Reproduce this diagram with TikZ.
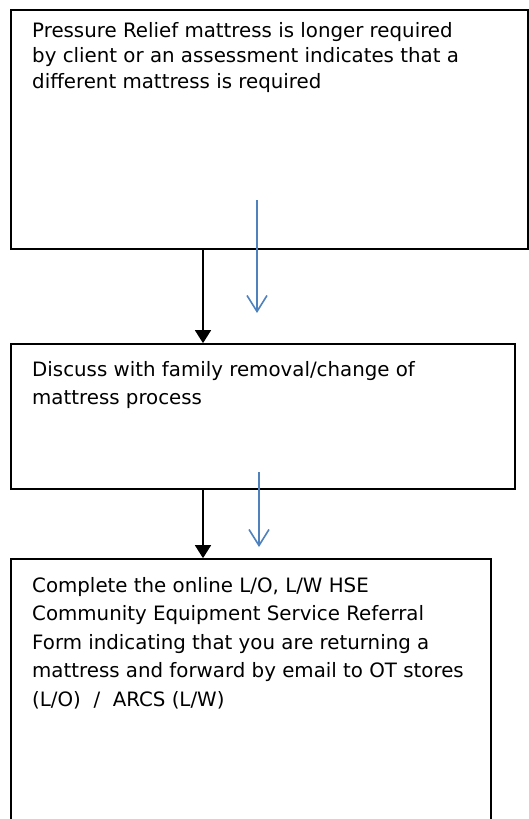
\documentclass[tikz,border=0pt]{standalone}
\usepackage{fontspec}
\setmainfont{DejaVu Sans}
\usetikzlibrary{arrows.meta}
\definecolor{wordblue}{RGB}{79,129,189}
\begin{document}
\begin{tikzpicture}[x=1pt,y=-1pt,
  box/.style={draw=black, line width=1.7pt, rectangle, inner sep=0pt},
  txt/.style={anchor=base west, align=left, inner sep=0pt},
  flow/.style={draw=black, line width=1.6pt, -{Triangle[length=13pt,width=16pt]}},
  blueflow/.style={draw=wordblue, line width=1.6pt, -{Straight Barb[length=16pt,width=20pt,line width=1.6pt]}}]
\clip (0,0) rectangle (529,819);
\node[box, minimum width=517pt, minimum height=239pt] (b1) at (269.5,129.5) {};
\node[box, minimum width=504pt, minimum height=145pt] (b2) at (263,416.5) {};
\node[box, minimum width=480pt, minimum height=281pt] (b3) at (251,699.5) {};
% base anchor of a multi-line node = baseline of its last line
\node[txt, font=\fontsize{19.8}{25.5}\selectfont] (t1) at (32,88) {Pressure Relief mattress is longer required\\by client or an assessment indicates that a\\different mattress is required};
\node[txt, font=\fontsize{19.8}{28}\selectfont] (t2) at (32,404) {Discuss with family removal/change of\\mattress process};
\node[txt, font=\fontsize{19.8}{28.5}\selectfont] (t3) at (32,706) {Complete the online L/O, L/W HSE\\Community Equipment Service Referral\\Form indicating that you are returning a\\mattress and forward by email to OT stores\\(L/O)\ \ /\ \ ARCS (L/W)};
\coordinate (ax) at (203,300);
\draw[flow] (b1.south -| ax) -- (b2.north -| ax);
\draw[flow] (b2.south -| ax) -- (b3.north -| ax);
\coordinate (u1s) at (257,200);
\coordinate (u1e) at (257,313);
\coordinate (u2s) at (259,472);
\coordinate (u2e) at (259,547);
\draw[blueflow] (u1s) -- (u1e);
\draw[blueflow] (u2s) -- (u2e);
\end{tikzpicture}
\end{document}
